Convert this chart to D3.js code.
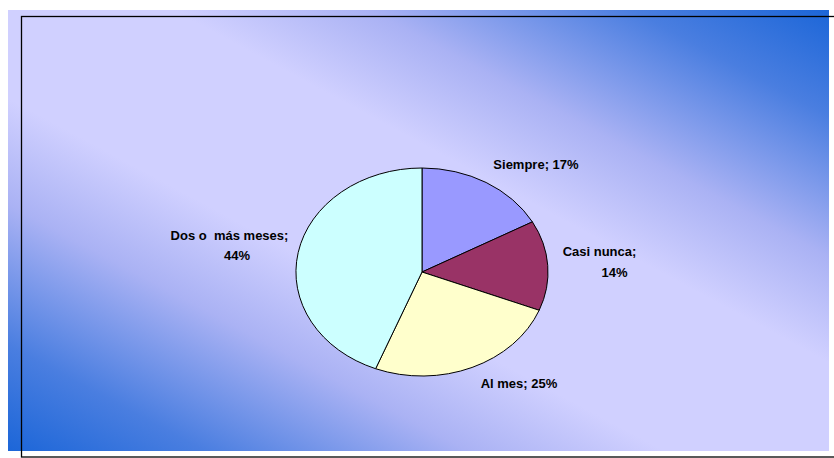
<!DOCTYPE html>
<html>
<head>
<meta charset="utf-8">
<script src="https://cdn.jsdelivr.net/npm/d3@7"></script>
<style>
  html, body { margin: 0; padding: 0; background: #fff; }
  svg { display: block; }
  text { font-family: "Liberation Sans", Arial, sans-serif; font-weight: bold; font-size: 13px; fill: #000; }
</style>
</head>
<body>
<svg id="chart" width="834" height="458"></svg>
<script>
// Frecuencia de uso: categorías, porcentajes y colores de cada sector
const categories = ["Siempre", "Casi nunca", "Al mes", "Dos o  más meses"];
const values = [17, 14, 25, 44];
const sliceColors = ["#9999ff", "#993366", "#ffffcc", "#ccffff"];

const svg = d3.select("#chart");

// Fondo con degradado diagonal (azul en las esquinas, claro en la franja central)
const defs = svg.append("defs");
const grad = defs.append("linearGradient")
  .attr("id", "bg")
  .attr("x1", 0).attr("y1", 1).attr("x2", 1).attr("y2", 0);
[
  [0, "#1c66d8"], [0.12, "#4a7ee0"], [0.28, "#aab2f4"], [0.4, "#d0d0ff"],
  [0.6, "#d0d0ff"], [0.72, "#aab2f4"], [0.88, "#4a7ee0"], [1, "#1c66d8"]
].forEach(([o, c]) => grad.append("stop").attr("offset", o).attr("stop-color", c));

svg.append("rect")
  .attr("x", 8).attr("y", 10).attr("width", 821).attr("height", 441)
  .attr("fill", "url(#bg)");

// Marco del área de gráfico
svg.append("rect")
  .attr("x", 21.5).attr("y", 16.5).attr("width", 840).attr("height", 440.5)
  .attr("fill", "none").attr("stroke", "#000").attr("stroke-width", 1.3);

// Tarta elíptica: arcos de radio unidad escalados a los semiejes
const cx = 422, cy = 272, rx = 126, ry = 104;
const pie = d3.pie().sort(null).value(d => d)(values);
const arc = d3.arc().innerRadius(0).outerRadius(1);

const g = svg.append("g").attr("transform", `translate(${cx},${cy}) scale(${rx},${ry})`);
g.selectAll("path")
  .data(pie)
  .join("path")
  .attr("d", arc)
  .attr("fill", (d, i) => sliceColors[i])
  .attr("stroke", "#000")
  .attr("stroke-width", 1)
  .attr("vector-effect", "non-scaling-stroke");

// Etiquetas "categoría; porcentaje"
const labelLines = [
  [{ t: `${categories[0]}; ${values[0]}%`, x: 536, y: 169 }],
  [{ t: `${categories[1]};`, x: 599.5, y: 256 }, { t: `${values[1]}%`, x: 614.5, y: 277 }],
  [{ t: `${categories[2]}; ${values[2]}%`, x: 519, y: 388 }],
  [{ t: `${categories[3]};`, x: 229.5, y: 240 }, { t: `${values[3]}%`, x: 237, y: 259.5 }]
];

svg.append("g").selectAll("text")
  .data(labelLines.flat())
  .join("text")
  .attr("x", d => d.x)
  .attr("y", d => d.y)
  .attr("text-anchor", "middle")
  .style("white-space", "pre")
  .text(d => d.t);
</script>
</body>
</html>
